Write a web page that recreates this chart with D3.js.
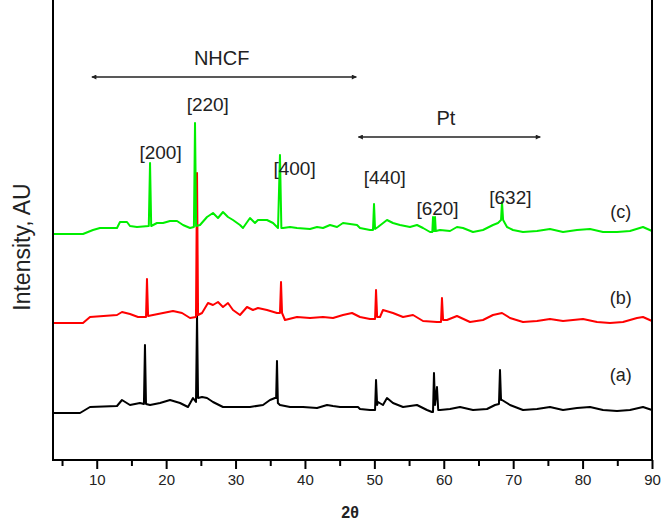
<!DOCTYPE html>
<html>
<head>
<meta charset="utf-8">
<script src="https://cdn.jsdelivr.net/npm/d3@7"></script>
<style>
  body { margin: 0; background: #fff; }
  text { font-family: "Liberation Sans", Arial, sans-serif; }
</style>
</head>
<body>
<div id="chart"></div>
<script>
// XRD patterns, [2theta, intensity a.u.], curves already offset for stacking
var seriesA = [
  [3.7, 47], [7.59, 47], [9.03, 53], [12.92, 54], [13.64, 60], [14.79, 55], [16.23, 57], [16.8, 56],
  [16.95, 115], [17.1, 56], [17.68, 55], [19.12, 57], [20.56, 60], [22.0, 57], [23.15, 53], [23.87, 62],
  [24.3, 58], [24.45, 144], [24.6, 62], [25.17, 63], [25.89, 62], [26.75, 58], [28.19, 53], [30.21, 53],
  [32.08, 53], [33.96, 55], [34.96, 60], [35.68, 62], [35.85, 62], [35.97, 99], [36.1, 57], [36.4, 55],
  [37.85, 53], [39.72, 53], [41.74, 52], [43.18, 55], [44.04, 54], [45.05, 53], [46.49, 53], [47.64, 53],
  [47.93, 51], [49.37, 50], [50.1, 50], [50.24, 80], [50.4, 55], [50.52, 58], [51.24, 55], [51.82, 62],
  [52.68, 57], [54.13, 53], [56.14, 55], [57.58, 50], [58.3, 48], [58.45, 48], [58.59, 87], [58.74, 55],
  [59.02, 73], [59.2, 50], [59.46, 50], [60.9, 51], [62.34, 53], [64.21, 50], [66.23, 51], [67.38, 55],
  [67.95, 56], [68.1, 90], [68.25, 60], [68.39, 60], [69.54, 55], [71.41, 50], [73.43, 51], [75.3, 53],
  [77.18, 50], [79.19, 52], [81.07, 53], [82.94, 50], [84.96, 49], [86.83, 50], [88.7, 53], [90, 50]
];
var seriesB = [
  [3.7, 137], [8.02, 137], [9.03, 143], [12.92, 145], [13.64, 148], [14.79, 146], [15.95, 143], [17.1, 143],
  [17.24, 181], [17.4, 144], [18.11, 145], [19.55, 147], [20.99, 149], [22.29, 147], [23.44, 142], [24.3, 143],
  [24.45, 287], [24.6, 145], [25.17, 147], [26.03, 157], [26.75, 155], [27.47, 158], [28.19, 153], [28.91, 157],
  [29.63, 150], [30.64, 145], [31.65, 153], [32.51, 150], [33.23, 152], [34.53, 150], [35.97, 147], [36.4, 147],
  [36.55, 178], [36.7, 147], [37.12, 140], [38.85, 143], [40.73, 142], [42.6, 143], [44.04, 142], [45.48, 145],
  [46.78, 147], [47.64, 144], [47.93, 143], [49.37, 141], [50.1, 141], [50.24, 170], [50.4, 143], [50.81, 143],
  [51.24, 150], [52.68, 147], [54.13, 143], [55.57, 145], [57.01, 139], [59.02, 138], [59.6, 138], [59.74, 162],
  [59.9, 140], [60.46, 140], [61.9, 144], [63.78, 138], [65.65, 140], [67.09, 145], [68.39, 147], [69.54, 142],
  [71.41, 138], [73.43, 139], [75.3, 141], [77.18, 139], [80.06, 141], [82.08, 138], [83.95, 137], [85.82, 138],
  [87.84, 142], [88.7, 143], [90, 139]
];
var seriesC = [
  [3.7, 226], [8.02, 226], [9.46, 230], [10.47, 232], [12.92, 232], [13.35, 238], [14.36, 238], [14.79, 234],
  [15.8, 233], [17.5, 234], [17.68, 297], [17.85, 234], [18.68, 237], [19.55, 237], [20.56, 239], [21.57, 239],
  [22.43, 235], [23.44, 232], [24.0, 233], [24.16, 337], [24.32, 234], [24.88, 235], [25.89, 243], [26.75, 247],
  [27.47, 242], [28.19, 248], [28.91, 243], [29.63, 240], [30.64, 235], [31.07, 232], [32.08, 242], [32.8, 237],
  [33.23, 240], [34.53, 240], [35.4, 237], [36.12, 232], [36.4, 305], [36.6, 232], [36.84, 232], [37.85, 233],
  [38.85, 232], [40.73, 231], [41.74, 233], [42.6, 232], [43.61, 235], [44.62, 233], [45.48, 237], [47.5, 235],
  [47.93, 232], [49.37, 230], [49.8, 230], [49.95, 256], [50.1, 231], [50.52, 233], [51.82, 240], [52.68, 237],
  [53.69, 235], [55.13, 233], [56.14, 235], [57.01, 232], [58.02, 228], [58.35, 228], [58.45, 243], [58.55, 229],
  [58.65, 229], [58.74, 243], [58.85, 229], [59.46, 230], [60.9, 229], [61.9, 233], [62.77, 232], [64.21, 228],
  [65.65, 230], [67.09, 235], [67.81, 237], [68.25, 240], [68.39, 258], [68.55, 240], [69.11, 233], [69.97, 230],
  [71.41, 228], [73.43, 229], [75.3, 231], [77.18, 228], [79.19, 230], [81.07, 231], [82.94, 228], [84.96, 228],
  [86.83, 229], [88.7, 233], [90, 229]
];
var curveNames = ["(a)", "(b)", "(c)"];
var curveColors = ["#000000", "#ff0000", "#00ee00"];

// Miller index labels [label, 2theta, intensity]
var peakLabels = [
  ["[200]", 19.2, 308], ["[220]", 26.0, 356], ["[400]", 38.5, 292], ["[440]", 51.5, 283],
  ["[620]", 59.1, 252], ["[632]", 69.6, 263]
];
// phase ranges [label, from, to, intensity]
var phaseRanges = [
  ["NHCF", 9.3, 47.4, 383],
  ["Pt", 47.7, 73.9, 323]
];
var majorTicks = [10, 20, 30, 40, 50, 60, 70, 80, 90];
var minorTicks = [5, 15, 25, 35, 45, 55, 65, 75, 85];

var W = 662, H = 521;
var margin = {top: -2, right: 10, bottom: 61, left: 53};

var svg = d3.select("#chart").append("svg")
  .attr("width", W)
  .attr("height", H);

var x = d3.scaleLinear().domain([3.7, 90]).range([margin.left, W - margin.right]);
var y = d3.scaleLinear().domain([0, 462]).range([H - margin.bottom, margin.top]);

var defs = svg.append("defs");
defs.append("marker")
  .attr("id", "head")
  .attr("viewBox", "0 0 10 10")
  .attr("refX", 9).attr("refY", 5)
  .attr("markerWidth", 7).attr("markerHeight", 5)
  .attr("markerUnits", "userSpaceOnUse")
  .attr("orient", "auto-start-reverse")
  .append("path").attr("d", "M0,0L10,5L0,10z").attr("fill", "#222");

// curves
var line = d3.line()
  .x(function(d) { return x(d[0]); })
  .y(function(d) { return y(d[1]); });

var allSeries = [seriesA, seriesB, seriesC];
allSeries.forEach(function(s, i) {
  svg.append("path")
    .datum(s)
    .attr("fill", "none")
    .attr("stroke", curveColors[i])
    .attr("stroke-width", 2)
    .attr("stroke-linejoin", "round")
    .attr("d", line);
});

// frame
svg.append("rect")
  .attr("x", margin.left).attr("y", margin.top)
  .attr("width", W - margin.right - margin.left)
  .attr("height", H - margin.bottom - margin.top)
  .attr("fill", "none").attr("stroke", "#000").attr("stroke-width", 2);

// x axis
var xAxis = svg.append("g")
  .attr("transform", "translate(0," + (H - margin.bottom) + ")")
  .call(d3.axisBottom(x).tickValues(majorTicks).tickSize(9).tickPadding(5).tickFormat(d3.format("d")));
xAxis.select(".domain").remove();
xAxis.selectAll(".tick line").attr("stroke-width", 2);
xAxis.selectAll(".tick text")
  .attr("font-size", 15)
  .attr("font-family", "Liberation Sans, Arial, sans-serif")
  .attr("fill", "#222");

var xMinor = svg.append("g")
  .attr("transform", "translate(0," + (H - margin.bottom) + ")")
  .call(d3.axisBottom(x).tickValues(minorTicks).tickSize(6).tickFormat(""));
xMinor.select(".domain").remove();
xMinor.selectAll(".tick line").attr("stroke-width", 2);

svg.append("text")
  .attr("x", x(46.5)).attr("y", 518)
  .attr("text-anchor", "middle")
  .attr("font-size", 16).attr("font-weight", "bold")
  .attr("fill", "#222")
  .text("2θ");

svg.append("text")
  .attr("transform", "translate(30,247) rotate(-90)")
  .attr("text-anchor", "middle")
  .attr("font-size", 23)
  .attr("fill", "#222")
  .text("Intensity, AU");

// phase arrows
phaseRanges.forEach(function(p) {
  svg.append("line")
    .attr("x1", x(p[1])).attr("x2", x(p[2]))
    .attr("y1", y(p[3])).attr("y2", y(p[3]))
    .attr("stroke", "#222").attr("stroke-width", 1.5)
    .attr("marker-start", "url(#head)")
    .attr("marker-end", "url(#head)");
});
svg.append("text")
  .attr("x", x(28.0)).attr("y", y(383) - 12)
  .attr("text-anchor", "middle").attr("font-size", 20).attr("fill", "#222")
  .text(phaseRanges[0][0]);
svg.append("text")
  .attr("x", x(60.3)).attr("y", y(323) - 12)
  .attr("text-anchor", "middle").attr("font-size", 20).attr("fill", "#222")
  .text(phaseRanges[1][0]);

// peak labels
svg.selectAll(".peak")
  .data(peakLabels)
  .enter().append("text")
  .attr("class", "peak")
  .attr("x", function(d) { return x(d[1]); })
  .attr("y", function(d) { return y(d[2]); })
  .attr("text-anchor", "middle")
  .attr("dominant-baseline", "central")
  .attr("font-size", 19)
  .attr("fill", "#222")
  .text(function(d) { return d[0]; });

// curve labels
var labelLevels = [85, 162, 248];
svg.selectAll(".cname")
  .data(curveNames)
  .enter().append("text")
  .attr("class", "cname")
  .attr("x", x(85.5))
  .attr("y", function(d, i) { return y(labelLevels[i]); })
  .attr("text-anchor", "middle")
  .attr("dominant-baseline", "central")
  .attr("font-size", 18)
  .attr("fill", "#222")
  .text(function(d) { return d; });
</script>
</body>
</html>
